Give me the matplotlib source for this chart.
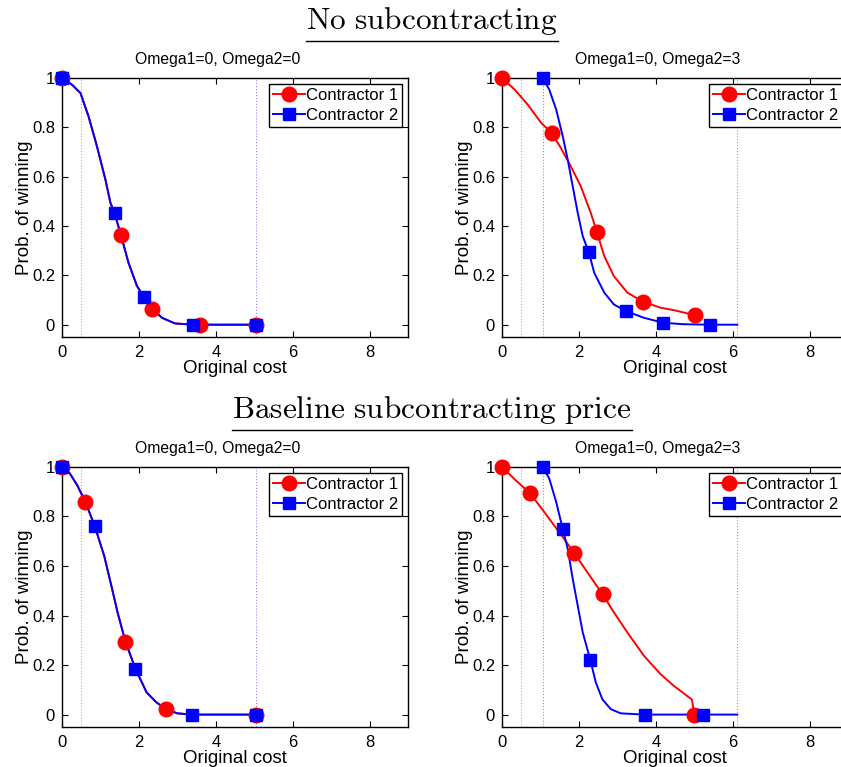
import matplotlib
matplotlib.use('Agg')
import matplotlib.pyplot as plt
from matplotlib.lines import Line2D

plt.rcParams['font.family'] = ['Liberation Sans', 'DejaVu Sans']
plt.rcParams['mathtext.fontset'] = 'cm'

# --- data (x = original cost, y = prob. of winning) ---

# top left: no subcontracting, Omega1=0, Omega2=0 (both contractors share one curve)
tl_line_x = [0, 0.26, 0.48, 0.69, 0.91, 1.13, 1.26, 1.37, 1.53, 1.73, 1.95, 2.14, 2.35, 2.6, 2.94, 3.41, 5.05]
tl_line_y = [1, 0.973, 0.939, 0.845, 0.723, 0.588, 0.494, 0.451, 0.365, 0.251, 0.157, 0.111, 0.065, 0.028, 0.005, 0, 0]
tl_c1_x = [0, 1.53, 2.35, 3.58, 5.05]
tl_c1_y = [1, 0.365, 0.065, 0, 0]
tl_c2_x = [0, 1.37, 2.14, 3.41, 5.05]
tl_c2_y = [1, 0.451, 0.111, 0, 0]

# top right: no subcontracting, Omega1=0, Omega2=3
tr_c1_line_x = [0, 0.33, 0.67, 1.02, 1.29, 1.53, 1.79, 2.05, 2.31, 2.47, 2.66, 2.91, 3.26, 3.67, 4.12, 4.47, 5.03]
tr_c1_line_y = [1, 0.953, 0.892, 0.818, 0.777, 0.717, 0.642, 0.561, 0.453, 0.375, 0.278, 0.197, 0.13, 0.093, 0.069, 0.059, 0.038]
tr_c2_line_x = [1.06, 1.23, 1.41, 1.58, 1.71, 1.84, 1.97, 2.1, 2.26, 2.4, 2.66, 2.91, 3.23, 3.69, 4.19, 4.7, 5.41, 6.12]
tr_c2_line_y = [1, 0.953, 0.872, 0.764, 0.669, 0.561, 0.453, 0.359, 0.293, 0.21, 0.13, 0.082, 0.055, 0.028, 0.008, 0.002, 0, 0]
tr_c1_x = [0, 1.29, 2.47, 3.67, 5.03]
tr_c1_y = [1, 0.777, 0.375, 0.093, 0.038]
tr_c2_x = [1.06, 2.26, 3.23, 4.19, 5.41]
tr_c2_y = [1, 0.293, 0.055, 0.008, 0]

# bottom left: baseline subcontracting price, Omega1=0, Omega2=0
bl_line_x = [0, 0.2, 0.4, 0.61, 0.85, 1.1, 1.3, 1.45, 1.65, 1.91, 2.2, 2.45, 2.71, 3.0, 3.38, 5.05]
bl_line_y = [1, 0.975, 0.925, 0.858, 0.762, 0.64, 0.51, 0.41, 0.295, 0.185, 0.09, 0.05, 0.022, 0.005, 0, 0]
bl_c1_x = [0, 0.61, 1.65, 2.71, 5.05]
bl_c1_y = [1, 0.858, 0.295, 0.022, 0]
bl_c2_x = [0, 0.85, 1.91, 3.38, 5.05]
bl_c2_y = [1, 0.762, 0.185, 0, 0]

# bottom right: baseline subcontracting price, Omega1=0, Omega2=3
br_c1_line_x = [0, 0.33, 0.72, 1.1, 1.58, 1.88, 2.22, 2.62, 2.91, 3.26, 3.69, 4.12, 4.47, 4.94, 5.0]
br_c1_line_y = [1, 0.95, 0.895, 0.818, 0.717, 0.652, 0.575, 0.485, 0.413, 0.332, 0.238, 0.164, 0.116, 0.061, 0]
br_c2_line_x = [1.06, 1.23, 1.41, 1.58, 1.71, 1.84, 1.97, 2.1, 2.3, 2.44, 2.61, 2.83, 3.09, 3.69, 5.24, 6.12]
br_c2_line_y = [1, 0.953, 0.858, 0.75, 0.669, 0.548, 0.44, 0.332, 0.219, 0.13, 0.062, 0.022, 0.005, 0, 0, 0]
br_c1_x = [0, 0.72, 1.88, 2.62, 5.0]
br_c1_y = [1, 0.895, 0.652, 0.485, 0]
br_c2_x = [1.06, 1.58, 2.3, 3.71, 5.24]
br_c2_y = [1, 0.75, 0.219, 0, 0]

# dotted reference lines
left_red_vline = 0.5
left_blue_vline = 5.05
right_red_vline = 0.5
right_blue_vlines = [1.06, 6.12]

titles = ['Omega1=0, Omega2=0', 'Omega1=0, Omega2=3']
headings = ['No subcontracting', 'Baseline subcontracting price']


def style_axes(ax, title):
    ax.set_xlim(0, 9)
    ax.set_ylim(-0.05, 1)
    ax.set_xticks([0, 2, 4, 6, 8])
    ax.set_yticks([0, 0.2, 0.4, 0.6, 0.8, 1])
    ax.set_yticklabels(['0', '0.2', '0.4', '0.6', '0.8', '1'])
    ax.tick_params(direction='in', top=True, right=True, labelsize=12, length=4, width=0.8)
    ax.tick_params(axis='x', pad=6)
    ax.tick_params(axis='y', pad=5)
    ax.set_xlabel('Original cost', fontsize=13.5, labelpad=0)
    ax.set_ylabel('Prob. of winning', fontsize=13.5, labelpad=-1)
    ax.set_title(title, fontsize=11.3, pad=10, x=0.451)
    for s in ax.spines.values():
        s.set_linewidth(1.0)


def draw_panel(ax, c1_line, c2_line, c1_pts, c2_pts, red_v, blue_v, title):
    ax.axvline(red_v, color='red', ls=':', lw=0.8, alpha=0.45)
    for v in blue_v:
        ax.axvline(v, color='blue', ls=':', lw=0.8, alpha=0.45)
    ax.plot(c1_line[0], c1_line[1], color='red', lw=1.4)
    ax.plot(c2_line[0], c2_line[1], color='blue', lw=1.4)
    ax.plot(c1_pts[0], c1_pts[1], 'o', color='red', ms=10.5, ls='none', clip_on=False, zorder=3)
    ax.plot(c2_pts[0], c2_pts[1], 's', color='blue', ms=9, ls='none', clip_on=False, zorder=3)
    h1 = Line2D([], [], color='red', lw=1.4, marker='o', ms=10.5)
    h2 = Line2D([], [], color='blue', lw=1.4, marker='s', ms=9)
    leg = ax.legend([h1, h2], ['Contractor 1', 'Contractor 2'], loc='upper right',
                    fontsize=12, fancybox=False, framealpha=1, edgecolor='black',
                    borderaxespad=0.35, handlelength=1.9, handletextpad=0.05,
                    borderpad=0.25, labelspacing=0.3)
    leg.get_frame().set_linewidth(1.0)
    leg.set_zorder(5)
    style_axes(ax, title)


fig = plt.figure(figsize=(8.41, 7.67), dpi=100)

ax_tl = fig.add_axes([0.0737, 0.5606, 0.4114, 0.3377])
ax_tr = fig.add_axes([0.5969, 0.5606, 0.4114, 0.3377])
ax_bl = fig.add_axes([0.0737, 0.0522, 0.4114, 0.3390])
ax_br = fig.add_axes([0.5969, 0.0522, 0.4114, 0.3390])

draw_panel(ax_tl, (tl_line_x, tl_line_y), (tl_line_x, tl_line_y), (tl_c1_x, tl_c1_y),
           (tl_c2_x, tl_c2_y), left_red_vline, [left_blue_vline], titles[0])
draw_panel(ax_tr, (tr_c1_line_x, tr_c1_line_y), (tr_c2_line_x, tr_c2_line_y), (tr_c1_x, tr_c1_y),
           (tr_c2_x, tr_c2_y), right_red_vline, right_blue_vlines, titles[1])
draw_panel(ax_bl, (bl_line_x, bl_line_y), (bl_line_x, bl_line_y), (bl_c1_x, bl_c1_y),
           (bl_c2_x, bl_c2_y), left_red_vline, [left_blue_vline], titles[0])
draw_panel(ax_br, (br_c1_line_x, br_c1_line_y), (br_c2_line_x, br_c2_line_y), (br_c1_x, br_c1_y),
           (br_c2_x, br_c2_y), right_red_vline, right_blue_vlines, titles[1])

# section headings, underlined
heads = []
for txt, y in zip(headings, [1 - 21 / 767, 1 - 410 / 767]):
    t = fig.text(432 / 841, y, r'$\mathrm{' + txt.replace(' ', r'\ ') + '}$',
                 ha='center', va='center', fontsize=22.5)
    heads.append(t)

fig.canvas.draw()
r = fig.canvas.get_renderer()
for t in heads:
    bb = t.get_window_extent(r).transformed(fig.transFigure.inverted())
    yl = bb.y0 - 4 / 767
    fig.add_artist(Line2D([bb.x0, bb.x1], [yl, yl], color='black', lw=1.0,
                          transform=fig.transFigure))

fig.savefig('out.png', dpi=100)
